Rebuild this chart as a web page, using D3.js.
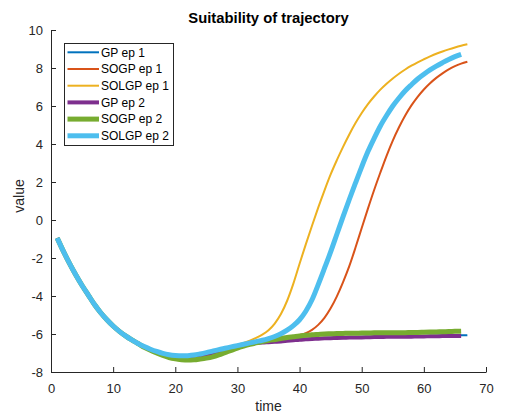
<!DOCTYPE html>
<html>
<head>
<meta charset="utf-8">
<script src="https://cdn.jsdelivr.net/npm/d3@7/dist/d3.min.js"></script>
<style>
  html, body { margin: 0; padding: 0; background: #ffffff; }
  svg { display: block; font-family: "Liberation Sans", Arial, Helvetica, sans-serif; }
</style>
</head>
<body>
<svg id="chart" width="512" height="419"></svg>
<script>
// ---------- data ----------
const timeEp1 = [1,2,3,4,5,6,7,8,9,10,11,12,13,14,15,16,17,18,19,20,21,22,23,24,25,26,27,28,29,30,31,32,33,34,35,36,37,38,39,40,41,42,43,44,45,46,47,48,49,50,51,52,53,54,55,56,57,58,59,60,61,62,63,64,65,66,67];
const timeEp2 = [1,2,3,4,5,6,7,8,9,10,11,12,13,14,15,16,17,18,19,20,21,22,23,24,25,26,27,28,29,30,31,32,33,34,35,36,37,38,39,40,41,42,43,44,45,46,47,48,49,50,51,52,53,54,55,56,57,58,59,60,61,62,63,64,65,66];

const gpEp1 = [-0.95,-1.65,-2.3,-2.9,-3.45,-3.95,-4.45,-4.88,-5.25,-5.58,-5.86,-6.1,-6.31,-6.5,-6.67,-6.82,-6.95,-7.06,-7.14,-7.2,-7.23,-7.23,-7.2,-7.15,-7.08,-7.0,-6.91,-6.82,-6.73,-6.65,-6.58,-6.52,-6.48,-6.45,-6.42,-6.4,-6.37,-6.34,-6.31,-6.28,-6.26,-6.24,-6.22,-6.21,-6.2,-6.19,-6.18,-6.17,-6.16,-6.15,-6.15,-6.14,-6.13,-6.13,-6.12,-6.12,-6.11,-6.11,-6.1,-6.1,-6.09,-6.09,-6.08,-6.08,-6.07,-6.07,-6.06];
const sogpEp1 = [-0.95,-1.65,-2.3,-2.9,-3.45,-3.95,-4.45,-4.88,-5.25,-5.58,-5.86,-6.1,-6.31,-6.5,-6.69,-6.84,-6.97,-7.1,-7.2,-7.27,-7.31,-7.32,-7.3,-7.26,-7.2,-7.12,-7.02,-6.92,-6.82,-6.72,-6.63,-6.55,-6.48,-6.42,-6.36,-6.31,-6.26,-6.2,-6.13,-6.05,-5.95,-5.78,-5.52,-5.15,-4.65,-4.02,-3.27,-2.43,-1.45,-0.42,0.6,1.58,2.5,3.38,4.18,4.88,5.5,6.03,6.48,6.87,7.2,7.48,7.72,7.93,8.1,8.23,8.33];
const solgpEp1 = [-0.95,-1.65,-2.3,-2.9,-3.45,-3.95,-4.45,-4.88,-5.25,-5.58,-5.86,-6.1,-6.31,-6.5,-6.66,-6.8,-6.92,-7.02,-7.09,-7.13,-7.15,-7.14,-7.11,-7.05,-6.98,-6.9,-6.82,-6.74,-6.66,-6.57,-6.47,-6.35,-6.2,-6.03,-5.8,-5.45,-4.95,-4.25,-3.35,-2.3,-1.28,-0.3,0.65,1.55,2.4,3.15,3.85,4.5,5.1,5.63,6.1,6.5,6.86,7.17,7.45,7.7,7.92,8.12,8.3,8.46,8.61,8.75,8.87,8.98,9.08,9.17,9.25];
const gpEp2 = [-0.95,-1.65,-2.3,-2.9,-3.45,-3.95,-4.45,-4.88,-5.25,-5.58,-5.86,-6.1,-6.31,-6.5,-6.67,-6.82,-6.95,-7.06,-7.14,-7.19,-7.21,-7.21,-7.18,-7.13,-7.06,-6.99,-6.92,-6.82,-6.72,-6.64,-6.57,-6.52,-6.48,-6.45,-6.43,-6.41,-6.39,-6.36,-6.33,-6.3,-6.28,-6.26,-6.25,-6.23,-6.22,-6.21,-6.2,-6.19,-6.18,-6.18,-6.17,-6.16,-6.16,-6.15,-6.15,-6.14,-6.14,-6.14,-6.13,-6.13,-6.12,-6.12,-6.11,-6.11,-6.1,-6.1];
const sogpEp2 = [-0.95,-1.65,-2.3,-2.9,-3.45,-3.95,-4.45,-4.88,-5.25,-5.58,-5.86,-6.1,-6.31,-6.5,-6.7,-6.86,-7.0,-7.13,-7.24,-7.31,-7.35,-7.37,-7.36,-7.32,-7.27,-7.2,-7.1,-6.98,-6.86,-6.74,-6.64,-6.55,-6.47,-6.4,-6.34,-6.29,-6.24,-6.18,-6.14,-6.1,-6.07,-6.04,-6.02,-6.0,-5.99,-5.98,-5.97,-5.96,-5.96,-5.95,-5.95,-5.94,-5.94,-5.94,-5.93,-5.93,-5.93,-5.92,-5.92,-5.91,-5.9,-5.89,-5.88,-5.87,-5.86,-5.85];
const solgpEp2 = [-0.95,-1.65,-2.3,-2.9,-3.45,-3.95,-4.45,-4.88,-5.25,-5.58,-5.86,-6.1,-6.31,-6.5,-6.66,-6.8,-6.92,-7.02,-7.09,-7.13,-7.15,-7.14,-7.11,-7.05,-6.98,-6.9,-6.82,-6.75,-6.68,-6.61,-6.54,-6.47,-6.4,-6.33,-6.24,-6.13,-5.99,-5.8,-5.56,-5.25,-4.8,-4.2,-3.4,-2.55,-1.68,-0.75,0.18,1.08,1.95,2.8,3.6,4.3,4.95,5.5,6.0,6.42,6.8,7.12,7.42,7.67,7.9,8.1,8.28,8.45,8.6,8.72];

const seriesNames = ["GP ep 1","SOGP ep 1","SOLGP ep 1","GP ep 2","SOGP ep 2","SOLGP ep 2"];
const seriesColors = ["#0072BD","#D95319","#EDB120","#7E2F8E","#77AC30","#4DBEEE"];
const seriesWidths = [2, 2, 2, 4, 5, 5];
const xTicks = [0,10,20,30,40,50,60,70];
const yTicks = [-8,-6,-4,-2,0,2,4,6,8,10];

const titleText = "Suitability of trajectory";
const xLabelText = "time";
const yLabelText = "value";

// ---------- layout ----------
const svg = d3.select("#chart");
const mLeft = 51, mRight = 486, mTop = 30, mBottom = 372;
const axisColor = "#262626";

const x = d3.scaleLinear().domain([0, 70]).range([mLeft, mRight]);
const y = d3.scaleLinear().domain([-8, 10]).range([mBottom, mTop]);

const series = [
  { t: timeEp1, v: gpEp1 },
  { t: timeEp1, v: sogpEp1 },
  { t: timeEp1, v: solgpEp1 },
  { t: timeEp2, v: gpEp2 },
  { t: timeEp2, v: sogpEp2 },
  { t: timeEp2, v: solgpEp2 }
];

const line = d3.line()
  .x(d => x(d[0]))
  .y(d => y(d[1]))
  .curve(d3.curveMonotoneX);

const plot = svg.append("g");
series.forEach((s, i) => {
  const pts = s.t.map((t, k) => [t, s.v[k]]);
  plot.append("path")
    .datum(pts)
    .attr("fill", "none")
    .attr("stroke", seriesColors[i])
    .attr("stroke-width", seriesWidths[i])
    .attr("stroke-linejoin", "round")
    .attr("d", line);
});

// axes
const fmt = d => String(d);
const xAxis = d3.axisBottom(x).tickValues(xTicks).tickFormat(fmt).tickSizeInner(-5).tickSizeOuter(0).tickPadding(12);
const yAxis = d3.axisLeft(y).tickValues(yTicks).tickFormat(fmt).tickSizeInner(-5).tickSizeOuter(0).tickPadding(8);

const gx = svg.append("g").attr("transform", `translate(0,${mBottom})`).call(xAxis);
const gy = svg.append("g").attr("transform", `translate(${mLeft},0)`).call(yAxis);

[gx, gy].forEach(g => {
  g.select(".domain").attr("stroke", axisColor).attr("stroke-width", 1);
  g.selectAll(".tick line").attr("stroke", axisColor).attr("stroke-width", 1);
  g.selectAll(".tick text")
    .attr("fill", axisColor)
    .style("font-family", "'Liberation Sans', Arial, sans-serif")
    .style("font-size", "13px");
});

// title and labels
svg.append("text")
  .attr("x", (mLeft + mRight) / 2)
  .attr("y", 23)
  .attr("text-anchor", "middle")
  .attr("fill", "#000")
  .style("font-size", "14.8px")
  .style("font-weight", "bold")
  .text(titleText);

svg.append("text")
  .attr("x", (mLeft + mRight) / 2)
  .attr("y", 411)
  .attr("text-anchor", "middle")
  .attr("fill", axisColor)
  .style("font-size", "14px")
  .text(xLabelText);

svg.append("text")
  .attr("transform", `translate(24,196) rotate(-90)`)
  .attr("text-anchor", "middle")
  .attr("fill", axisColor)
  .style("font-size", "14px")
  .text(yLabelText);

// legend
const lg = svg.append("g");
lg.append("rect")
  .attr("x", 64.5).attr("y", 43.5)
  .attr("width", 109).attr("height", 102)
  .attr("fill", "#fff")
  .attr("stroke", axisColor)
  .attr("stroke-width", 1);

seriesNames.forEach((name, i) => {
  const cy = 52.3 + i * 16.7;
  lg.append("line")
    .attr("x1", 67.5).attr("x2", 99)
    .attr("y1", cy).attr("y2", cy)
    .attr("stroke", seriesColors[i])
    .attr("stroke-width", seriesWidths[i]);
  lg.append("text")
    .attr("x", 101)
    .attr("y", cy)
    .attr("dy", "0.35em")
    .attr("fill", "#000")
    .style("font-size", "12px")
    .text(name);
});
</script>
</body>
</html>
